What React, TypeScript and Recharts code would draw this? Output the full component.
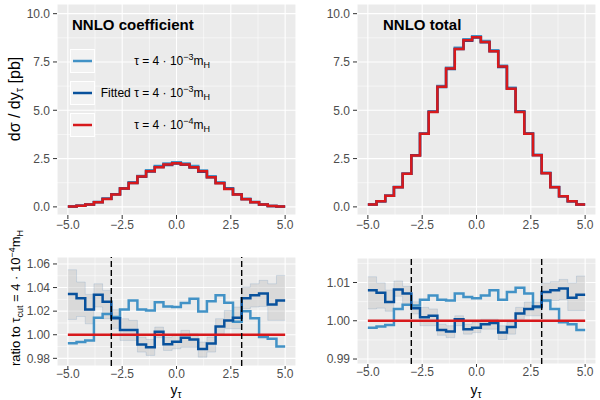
import { ComposedChart, Line, Area, XAxis, YAxis, CartesianGrid, ReferenceLine } from 'recharts';

const FONT = '"Liberation Sans", Arial, Helvetica, sans-serif';
const LIGHT = '#4292C6';
const DARK = '#08519C';
const RED = '#D7191C';

// bin edges in y_tau (25 bins of width 0.4)
const binEdges = [-5, -4.6, -4.2, -3.8, -3.4, -3, -2.6, -2.2, -1.8, -1.4, -1, -0.6, -0.2, 0.2, 0.6, 1, 1.4, 1.8, 2.2, 2.6, 3, 3.4, 3.8, 4.2, 4.6, 5];

const xTicks = [-5, -2.5, 0, 2.5, 5];
const xMinor = [-3.75, -1.25, 1.25, 3.75];

// NNLO coefficient [pb]
const coefLight = [0.02, 0.06, 0.12, 0.24, 0.42, 0.65, 0.97, 1.27, 1.6, 1.89, 2.11, 2.24, 2.31, 2.25, 2.11, 1.88, 1.58, 1.26, 0.96, 0.65, 0.41, 0.24, 0.12, 0.05, 0.02];
const coefDark = [0.02, 0.06, 0.12, 0.25, 0.42, 0.65, 0.95, 1.24, 1.56, 1.83, 2.06, 2.17, 2.25, 2.18, 2.04, 1.82, 1.53, 1.23, 0.94, 0.65, 0.41, 0.25, 0.12, 0.05, 0.02];
const coefRed = [0.02, 0.06, 0.12, 0.24, 0.41, 0.64, 0.95, 1.23, 1.57, 1.85, 2.05, 2.19, 2.26, 2.19, 2.05, 1.84, 1.54, 1.22, 0.93, 0.64, 0.4, 0.24, 0.12, 0.05, 0.02];

// NNLO total [pb]
const totalLight = [0.12, 0.29, 0.57, 1.02, 1.72, 2.67, 3.8, 4.94, 6.25, 7.2, 8.23, 8.67, 8.83, 8.59, 8.11, 7.3, 6.17, 4.95, 3.81, 2.68, 1.75, 1.02, 0.55, 0.29, 0.12];
const totalDark = [0.12, 0.29, 0.57, 1.03, 1.72, 2.67, 3.78, 4.92, 6.21, 7.14, 8.17, 8.6, 8.76, 8.52, 8.05, 7.24, 6.11, 4.92, 3.79, 2.68, 1.75, 1.03, 0.55, 0.29, 0.12];
const totalRed = [0.12, 0.29, 0.57, 1.02, 1.71, 2.66, 3.78, 4.91, 6.22, 7.16, 8.17, 8.62, 8.78, 8.53, 8.05, 7.26, 6.12, 4.91, 3.78, 2.67, 1.74, 1.02, 0.55, 0.29, 0.12];

// ratios to tau_cut = 4e-4 m_H
const ratioRed = [1, 1, 1, 1, 1, 1, 1, 1, 1, 1, 1, 1, 1, 1, 1, 1, 1, 1, 1, 1, 1, 1, 1, 1, 1];

const ratioCoefLight = [0.9928, 0.9938, 0.9952, 1.0144, 1.0175, 1.015, 1.0215, 1.029, 1.0215, 1.0205, 1.0275, 1.024, 1.0235, 1.027, 1.0305, 1.0198, 1.0283, 1.0335, 1.0272, 1.011, 1.02, 1.014, 0.998, 0.9966, 0.99];
const ratioCoefDark = [1.0345, 1.031, 1.0215, 1.034, 1.028, 1.014, 1.004, 1.004, 0.9918, 0.9895, 1.0025, 0.992, 0.994, 0.9975, 0.996, 0.988, 0.9925, 1.007, 1.012, 1.0145, 1.031, 1.0335, 1.035, 1.0257, 1.029];
const ratioCoefLo = [1.013, 1.0155, 1.0093, 1.0235, 1.0136, 1.0054, 0.9952, 0.9952, 0.9853, 0.9825, 0.9975, 0.9867, 0.9881, 0.9895, 0.9895, 0.981, 0.9853, 1.0008, 1.0051, 1.0051, 1.022, 1.0235, 1.024, 1.0122, 1.0122];
const ratioCoefHi = [1.0551, 1.0447, 1.0342, 1.0432, 1.0376, 1.0212, 1.0136, 1.0122, 0.998, 0.996, 1.0065, 0.998, 0.9994, 1.0037, 1.0008, 0.9938, 0.998, 1.0136, 1.0206, 1.0235, 1.0404, 1.0432, 1.0461, 1.0432, 1.0503];

const ratioTotalLight = [0.9982, 0.9985, 0.9989, 1.0031, 1.0042, 1.004, 1.0055, 1.0066, 1.0055, 1.0053, 1.0071, 1.0062, 1.0059, 1.0066, 1.008, 1.0055, 1.0075, 1.0086, 1.0071, 1.0035, 1.0053, 1.0031, 0.9996, 0.9991, 0.9976];
const ratioTotalDark = [1.008, 1.0073, 1.0049, 1.0082, 1.0071, 1.0033, 1.0009, 1.0013, 0.9976, 0.9972, 1.0004, 0.9978, 0.9982, 0.9991, 0.9994, 0.9969, 0.9984, 1.0019, 1.0031, 1.0037, 1.0075, 1.008, 1.0084, 1.006, 1.0068];
const ratioTotalLo = [1.0031, 1.0033, 1.0025, 1.0064, 1.004, 1.0018, 0.9987, 0.9987, 0.9962, 0.9956, 0.9987, 0.9965, 0.9969, 0.9978, 0.9978, 0.9951, 0.9965, 1.0004, 1.0013, 1.0013, 1.0049, 1.0053, 1.0055, 1.0027, 1.0027];
const ratioTotalHi = [1.0115, 1.0099, 1.008, 1.0104, 1.009, 1.005, 1.0035, 1.0031, 0.9991, 0.9987, 1.0013, 0.9991, 0.9996, 1.0004, 1.0004, 0.9987, 0.9996, 1.0035, 1.0049, 1.0049, 1.0099, 1.0102, 1.0108, 1.0099, 1.0117];

const cutLines = [-3, 3];

// legend entries
const legendItems = [
  { color: LIGHT, prefix: '', exp: '\u22123' },
  { color: DARK, prefix: 'Fitted ', exp: '\u22123' },
  { color: RED, prefix: '', exp: '\u22124' },
];

// step data: last edge repeats last bin so the step reaches x = 5
function toRows(series: Record<string, number[]>) {
  return binEdges.map((x, i) => {
    const row: any = { x };
    Object.entries(series).forEach(([key, vals]) => {
      row[key] = vals[Math.min(i, vals.length - 1)];
    });
    return row;
  });
}

const coefRows = toRows({ light: coefLight, dark: coefDark, red: coefRed });
const totalRows = toRows({ light: totalLight, dark: totalDark, red: totalRed });
const ratioCoefRows = toRows({ light: ratioCoefLight, dark: ratioCoefDark, red: ratioRed, lo: ratioCoefLo, hi: ratioCoefHi });
const ratioTotalRows = toRows({ light: ratioTotalLight, dark: ratioTotalDark, red: ratioRed, lo: ratioTotalLo, hi: ratioTotalHi });

const fmtNum = (digits: number) => (v: number) => {
  const s = Math.abs(v).toFixed(digits);
  return v < 0 ? `\u2212${s}` : s;
};

const tickStyle = { fill: '#4D4D4D', fontSize: 12, fontFamily: FONT };

interface PanelProps {
  rows: any[];
  left: number;
  top: number;
  height: number;
  marginTop: number;
  xAxisHeight: number;
  yDomain: [number, number];
  yTicks: number[];
  yMinor: number[];
  digits: number;
  ratio?: boolean;
}

function Panel({ rows, left, top, height, marginTop, xAxisHeight, yDomain, yTicks, yMinor, digits, ratio }: PanelProps) {
  return (
    <div style={{ position: 'absolute', left, top }}>
      <ComposedChart width={300} height={height} data={rows} margin={{ top: marginTop, right: 4, bottom: 0, left: 0 }}>
        <CartesianGrid fill="#EBEBEB" stroke="#FFFFFF" strokeWidth={1.1} />
        <CartesianGrid stroke="#FFFFFF" strokeWidth={0.55} horizontalValues={yMinor} verticalValues={xMinor} />
        <XAxis
          dataKey="x"
          type="number"
          domain={[-5.5, 5.5]}
          ticks={xTicks}
          interval={0}
          allowDataOverflow
          axisLine={false}
          tickLine={{ stroke: '#333333' }}
          tickSize={ratio ? 3 : 4}
          tickMargin={ratio ? 0 : 1}
          height={xAxisHeight}
          tick={tickStyle}
          tickFormatter={fmtNum(1)}
        />
        <YAxis
          type="number"
          domain={yDomain}
          ticks={yTicks}
          interval={0}
          allowDataOverflow
          axisLine={false}
          tickLine={{ stroke: '#333333' }}
          tickSize={4}
          tickMargin={3}
          width={57}
          tick={tickStyle}
          tickFormatter={fmtNum(digits)}
        />
        {ratio && (
          <Area
            dataKey={(d: any) => [d.lo, d.hi]}
            type="stepAfter"
            fill="#BEBEBE"
            fillOpacity={0.4}
            stroke={DARK}
            strokeOpacity={0.12}
            strokeWidth={1}
            isAnimationActive={false}
          />
        )}
        <Line dataKey="light" type="stepAfter" stroke={LIGHT} strokeWidth={2.5} dot={false} activeDot={false} isAnimationActive={false} />
        <Line dataKey="dark" type="stepAfter" stroke={DARK} strokeWidth={2.5} dot={false} activeDot={false} isAnimationActive={false} />
        <Line dataKey="red" type="stepAfter" stroke={RED} strokeWidth={2.5} dot={false} activeDot={false} isAnimationActive={false} />
        {ratio && cutLines.map((v) => (
          <ReferenceLine key={v} x={v} stroke="#000000" strokeWidth={1.4} strokeDasharray="6 3" />
        ))}
      </ComposedChart>
    </div>
  );
}

function TauLabel({ prefix, exp }: { prefix: string; exp: string }) {
  return (
    <>
      {prefix}τ = 4 · 10
      <tspan dy={-5} fontSize={9}>{exp}</tspan>
      <tspan dy={5}>m</tspan>
      <tspan dy={3} fontSize={9}>H</tspan>
    </>
  );
}

export default function App() {
  return (
    <div style={{ position: 'fixed', left: 0, top: 0, width: 600, height: 400, background: '#FFFFFF', fontFamily: FONT }}>
      <Panel rows={coefRows} left={0} top={0} height={240} marginTop={4} xAxisHeight={25}
        yDomain={[-0.42, 10.5]} yTicks={[0, 2.5, 5, 7.5, 10]} yMinor={[1.25, 3.75, 6.25, 8.75]} digits={1} />
      <Panel rows={totalRows} left={300} top={0} height={240} marginTop={4} xAxisHeight={25}
        yDomain={[-0.42, 10.5]} yTicks={[0, 2.5, 5, 7.5, 10]} yMinor={[1.25, 3.75, 6.25, 8.75]} digits={1} />
      <Panel rows={ratioCoefRows} left={0} top={240} height={160} marginTop={17} xAxisHeight={34}
        yDomain={[0.9735, 1.0659]} yTicks={[0.98, 1, 1.02, 1.04, 1.06]} yMinor={[0.99, 1.01, 1.03, 1.05]} digits={2} ratio />
      <Panel rows={ratioTotalRows} left={300} top={240} height={160} marginTop={18} xAxisHeight={36}
        yDomain={[0.9887, 1.0164]} yTicks={[0.99, 1, 1.01]} yMinor={[0.995, 1.005, 1.015]} digits={2} ratio />

      <svg width={600} height={400} style={{ position: 'absolute', left: 0, top: 0, pointerEvents: 'none' }} fontFamily={FONT}>
        <text x={72} y={24} fontSize={15} fontWeight="bold" dominantBaseline="central" fill="#000">NNLO coefficient</text>
        <text x={383} y={24} fontSize={15} fontWeight="bold" dominantBaseline="central" fill="#000">NNLO total</text>

        {legendItems.map((item, i) => {
          const cy = 61 + i * 32;
          return (
            <g key={i}>
              <rect x={70.5} y={cy - 11.5} width={24} height={23} fill="#F2F2F2" stroke="#FFFFFF" strokeWidth={1} />
              <line x1={73} x2={92} y1={cy} y2={cy} stroke={item.color} strokeWidth={2.5} />
              <text x={210} y={cy + 4} fontSize={12} textAnchor="end" fill="#000">
                <TauLabel prefix={item.prefix} exp={item.exp} />
              </text>
            </g>
          );
        })}

        <text transform="translate(20,99) rotate(-90)" fontSize={16} textAnchor="middle" fill="#000">
          dσ / dy<tspan dy={3} fontSize={11}>τ</tspan><tspan dy={-3}> [pb]</tspan>
        </text>
        <text transform="translate(20,298) rotate(-90)" fontSize={13} textAnchor="middle" fill="#000">
          ratio to τ<tspan dy={3} fontSize={9}>cut</tspan><tspan dy={-3}> = 4 · 10</tspan>
          <tspan dy={-5} fontSize={9}>{'\u22124'}</tspan>
          <tspan dy={5}>m</tspan>
          <tspan dy={3} fontSize={9}>H</tspan>
        </text>

        <text x={176} y={395} fontSize={14} textAnchor="middle" fill="#000">
          y<tspan dy={3} fontSize={10}>τ</tspan>
        </text>
        <text x={476} y={395} fontSize={14} textAnchor="middle" fill="#000">
          y<tspan dy={3} fontSize={10}>τ</tspan>
        </text>
      </svg>
    </div>
  );
}
